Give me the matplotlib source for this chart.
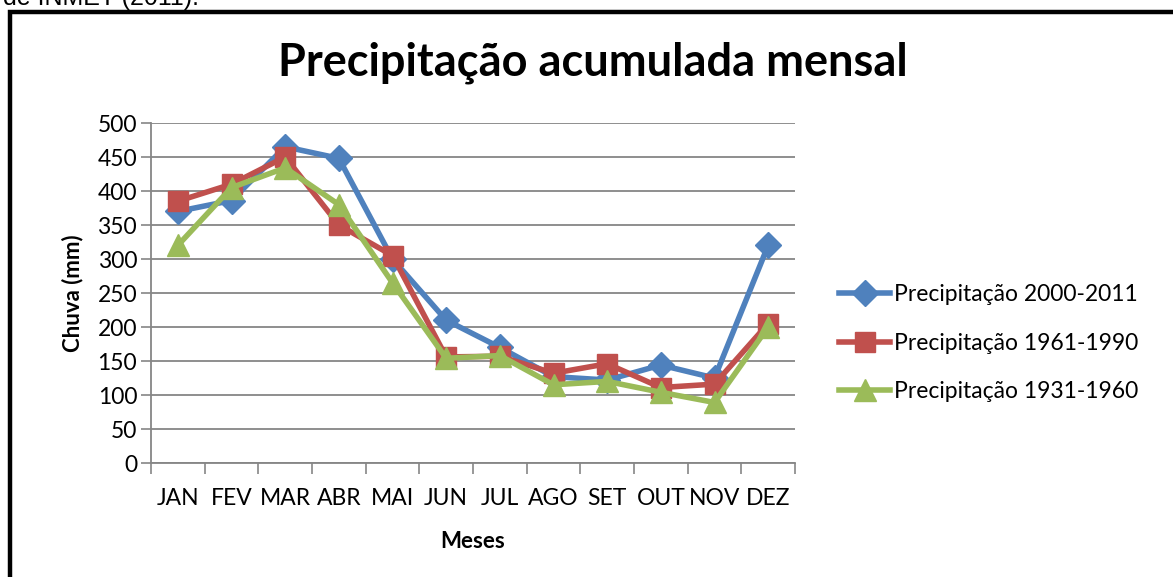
import numpy as np
import matplotlib.pyplot as plt
from matplotlib.patches import Rectangle

meses = ['JAN', 'FEV', 'MAR', 'ABR', 'MAI', 'JUN', 'JUL', 'AGO', 'SET', 'OUT', 'NOV', 'DEZ']
prec_2000_2011 = [370, 386, 465, 448, 300, 210, 170, 127, 122, 144, 125, 320]
prec_1961_1990 = [385, 410, 450, 350, 305, 156, 157, 132, 146, 111, 116, 205]
prec_1931_1960 = [320, 405, 434, 380, 265, 154, 158, 115, 120, 104, 89, 200]
labels = ['Precipitação 2000-2011', 'Precipitação 1961-1990', 'Precipitação 1931-1960']

plt.rcParams['font.family'] = ['Lato', 'DejaVu Sans']

W, H = 1173, 577
fig = plt.figure(figsize=(W / 100, H / 100), dpi=100)

# page border and clipped caption above the chart
fig.patches.append(Rectangle((10 / W, -0.1), 1.2, 1 - 10 / H + 0.1 - 0.003,
                             transform=fig.transFigure, fill=False,
                             edgecolor='black', linewidth=3.2))
fig.text(3 / W, 1 - 5 / H, 'de INMET (2011).', fontsize=18, va='baseline',
         family=['Liberation Sans'])

ax = fig.add_axes([151 / W, 1 - 463 / H, 644 / W, 340 / H])
x = np.arange(len(meses))

ax.plot(x, prec_2000_2011, color='#4F81BD', lw=4, marker='D', ms=13, label=labels[0])
ax.plot(x, prec_1961_1990, color='#C0504D', lw=4, marker='s', ms=14, label=labels[1])
ax.plot(x, prec_1931_1960, color='#9BBB59', lw=4, marker='^', ms=16, label=labels[2])

ax.set_xlim(-0.5, 11.5)
ax.set_ylim(0, 500)
ax.set_yticks(np.arange(0, 501, 50))
ax.set_xticks(x)
ax.set_xticklabels(meses)
ax.set_xticks(np.arange(-0.5, 12, 1), minor=True)
ax.tick_params(axis='x', which='major', length=0, pad=18, labelsize=16.5)
ax.tick_params(axis='x', which='minor', length=8, width=1.2, color='#868686', direction='out')
ax.tick_params(axis='y', length=7, width=1.2, color='#868686', labelsize=16.5, pad=3)
ax.yaxis.grid(True, color='#868686', lw=1.3)
ax.set_axisbelow(True)
for s in ['top', 'right']:
    ax.spines[s].set_visible(False)
for s in ['left', 'bottom']:
    ax.spines[s].set_color('#868686')
    ax.spines[s].set_linewidth(1.3)

ax.set_ylabel('Chuva (mm)', fontsize=16, fontweight='bold', labelpad=10)
ax.set_xlabel('Meses', fontsize=16, fontweight='bold', labelpad=16)

fig.text(593 / W, 1 - 63 / H, 'Precipitação acumulada mensal', fontsize=32.5,
         fontweight='bold', ha='center', va='center')

ax.legend(loc='upper left', bbox_to_anchor=(828 / W, 1 - 273 / H),
          bbox_transform=fig.transFigure, frameon=False, fontsize=16.5,
          handlelength=2.2, handletextpad=0.2, labelspacing=1.2, borderpad=0)

fig.savefig('out.png', dpi=100)
